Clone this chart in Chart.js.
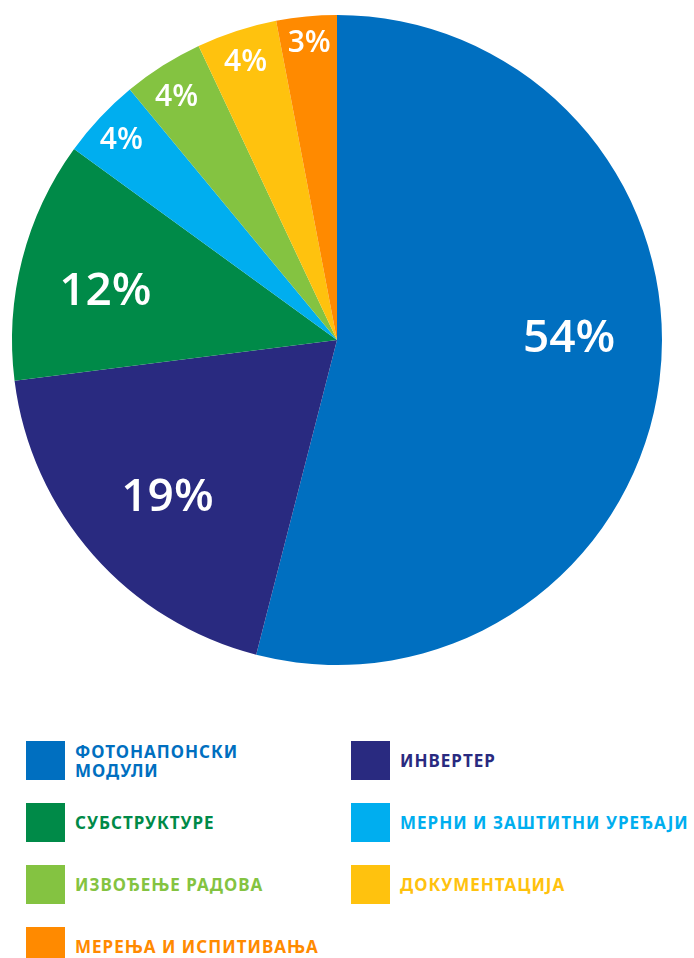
<!DOCTYPE html>
<html lang="sr">
<head>
    <meta charset="UTF-8">
    <title>Структура трошкова</title>
    <style>
        body {
            margin: 0;
            background: #ffffff;
            font-family: "Noto Sans", sans-serif;
        }
        .chart-container {
            position: absolute;
            left: 0;
            top: 0;
            width: 694px;
            height: 680px;
        }
        .legend {
            position: absolute;
            left: 26px;
            top: 741px;
            display: grid;
            grid-template-columns: 325px auto;
            row-gap: 23px;
        }
        .legend-item {
            display: flex;
            align-items: center;
            height: 39px;
        }
        .legend-box {
            width: 39px;
            height: 39px;
            flex: none;
            margin-right: 10px;
        }
        .legend-text {
            font-weight: 700;
            font-size: 17px;
            letter-spacing: 1px;
            line-height: 19px;
            white-space: pre;
        }
    </style>
</head>
<body>
    <div class="chart-container">
        <canvas id="pie-chart" width="694" height="680"></canvas>
    </div>
    <div class="legend" id="legend"></div>

    <script src="https://cdn.jsdelivr.net/npm/chart.js"></script>
    <script>
        var categories = [
            'ФОТОНАПОНСКИ\nМОДУЛИ',
            'ИНВЕРТЕР',
            'СУБСТРУКТУРЕ',
            'МЕРНИ И ЗАШТИТНИ УРЕЂАЈИ',
            'ИЗВОЂЕЊЕ РАДОВА',
            'ДОКУМЕНТАЦИЈА',
            'МЕРЕЊА И ИСПИТИВАЊА'
        ];
        var shares = [54, 19, 12, 4, 4, 4, 3];
        var colors = ['#006fc0', '#292a80', '#008a48', '#00aeef', '#84c341', '#ffc20e', '#ff8a00'];

        // white percent labels inside slices
        var sliceLabels = {
            id: 'sliceLabels',
            afterDatasetsDraw: function(chart, args, opts) {
                var ctx = chart.ctx;
                var meta = chart.getDatasetMeta(0);
                var nudge = opts.nudge || [];
                ctx.save();
                ctx.fillStyle = '#ffffff';
                ctx.textAlign = 'center';
                ctx.textBaseline = 'middle';
                meta.data.forEach(function(arc, i) {
                    var v = shares[i];
                    var big = v >= 10;
                    var mid = (arc.startAngle + arc.endAngle) / 2;
                    var r = arc.outerRadius * (big ? 0.72 : 0.91);
                    var n = nudge[i] || [0, 0];
                    ctx.font = '600 ' + (big ? 46 : 30) + 'px "Open Sans"';
                    ctx.fillText(v + '%', arc.x + Math.cos(mid) * r + n[0], arc.y + Math.sin(mid) * r + n[1]);
                });
                ctx.restore();
            }
        };

        var ctx = document.getElementById('pie-chart').getContext('2d');
        var chart = new Chart(ctx, {
            type: 'pie',
            data: {
                labels: categories,
                datasets: [{
                    data: shares,
                    backgroundColor: colors,
                    borderWidth: 0
                }]
            },
            options: {
                responsive: false,
                animation: false,
                layout: {
                    padding: { top: 15, bottom: 15, left: 0, right: 20 }
                },
                plugins: {
                    legend: { display: false },
                    tooltip: { enabled: false },
                    sliceLabels: {
                        nudge: [[0, -30], [6, 3], [-5, 10], [0, 3], [-2, 7], [0, 4], [0, -2]]
                    }
                }
            },
            plugins: [sliceLabels]
        });

        var legend = document.getElementById('legend');
        categories.forEach(function(name, i) {
            var item = document.createElement('div');
            item.className = 'legend-item';
            var box = document.createElement('div');
            box.className = 'legend-box';
            box.style.background = colors[i];
            var txt = document.createElement('div');
            txt.className = 'legend-text';
            txt.style.color = colors[i];
            txt.textContent = name;
            item.appendChild(box);
            item.appendChild(txt);
            legend.appendChild(item);
        });
    </script>
</body>
</html>
